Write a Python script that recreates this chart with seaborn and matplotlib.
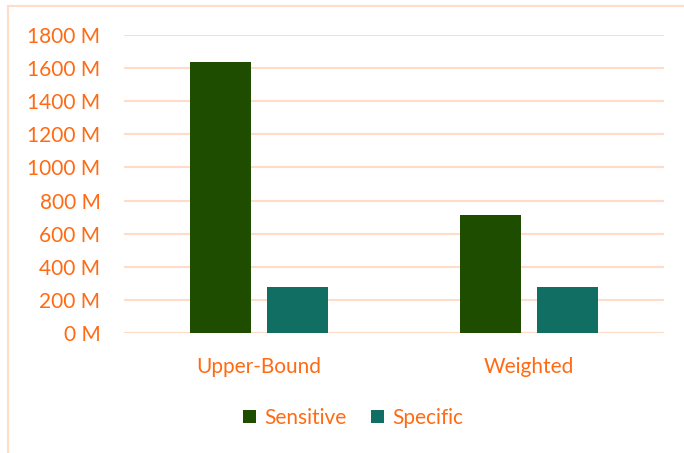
import matplotlib
matplotlib.use('Agg')

import pandas as pd
import matplotlib.pyplot as plt
import seaborn as sns
from matplotlib.patches import Rectangle

# данные
methods = ['Upper-Bound', 'Weighted']
series = ['Sensitive', 'Specific']
sensitive_vals = [1640, 715]
specific_vals = [275, 275]
y_ticks = [0, 200, 400, 600, 800, 1000, 1200, 1400, 1600, 1800]

df = pd.DataFrame({
    'Method': methods * 2,
    'Series': [series[0]] * 2 + [series[1]] * 2,
    'Value': sensitive_vals + specific_vals,
})

orange = '#FF6A13'
grid_col = '#FFDCC8'
palette = {'Sensitive': '#1E4D00', 'Specific': '#116E62'}

sns.set_theme(style='white')
plt.rcParams['font.family'] = ['Lato', 'DejaVu Sans']

fig = plt.figure(figsize=(6.84, 4.53), dpi=100)
ax = fig.add_axes([0.1813, 0.2649, 0.7895, 0.6578])

sns.barplot(
    data=df,
    x='Method',
    y='Value',
    hue='Series',
    palette=palette,
    width=0.57,
    gap=0.208,
    linewidth=0,
    saturation=1,
    ax=ax,
    zorder=3
)

ax.set_xlim(-0.5, 1.5)
ax.set_ylim(0, 1800)
ax.set_yticks(y_ticks)
ax.set_yticklabels([f'{v} M' for v in y_ticks])
ax.yaxis.grid(True, color=grid_col, linewidth=1.5, zorder=0)
ax.set_axisbelow(True)
ax.set_xlabel('')
ax.set_ylabel('')
for s in ax.spines.values():
    s.set_visible(False)
ax.axhline(0, color=grid_col, linewidth=1.5, zorder=1)

ax.tick_params(axis='y', length=0, pad=17, labelsize=15, labelcolor=orange)
ax.tick_params(axis='x', length=0, pad=17, labelsize=15, labelcolor=orange)

leg = ax.legend(
    loc='center',
    bbox_to_anchor=((353 - 124) / 540, (1 - 418 / 453 - 0.2649) / 0.6578),
    ncol=2,
    frameon=False,
    fontsize=15,
    handlelength=0.6,
    handleheight=0.6,
    handletextpad=0.4,
    columnspacing=1.2
)
for t in leg.get_texts():
    t.set_color(orange)

# рамка навколо діаграми
fig.patches.append(Rectangle(
    (8 / 684, -0.05), 1.0, 1 - 6 / 453 + 0.05,
    transform=fig.transFigure, fill=False,
    edgecolor=grid_col, linewidth=1.5
))

fig.savefig('out.png', dpi=100)
